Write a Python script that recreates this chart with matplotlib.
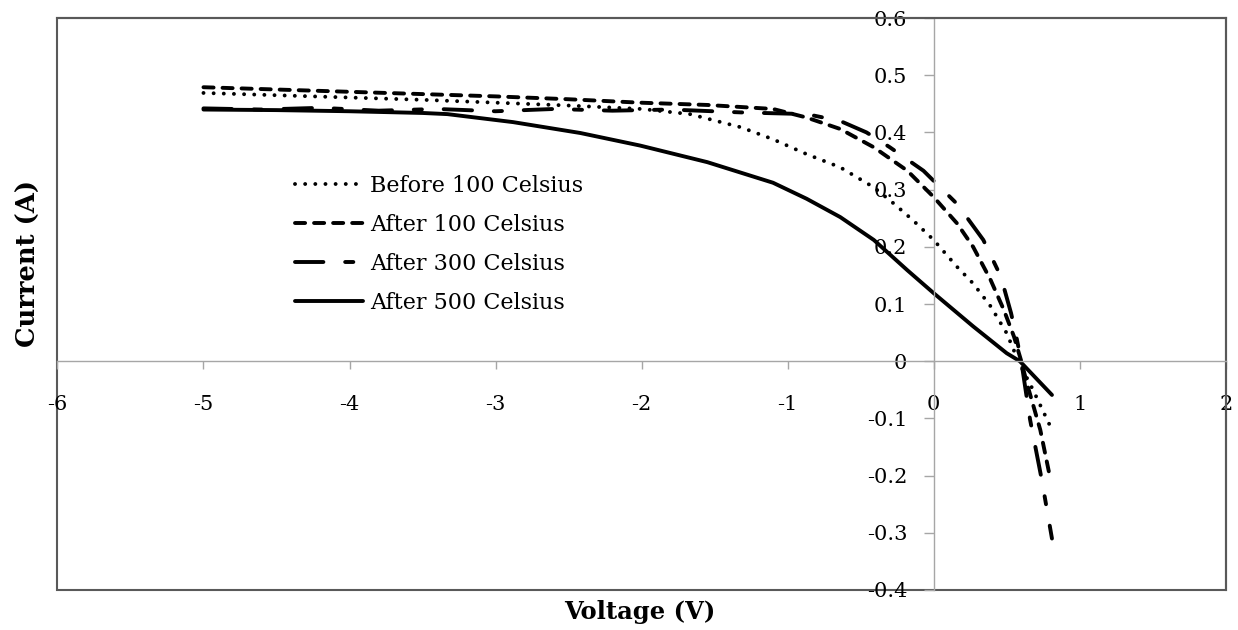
import matplotlib
matplotlib.use('Agg')
import matplotlib.pyplot as plt
from matplotlib.patches import Rectangle

# ---- data ----
v_before100 = [-5.0, -4.5, -4.0, -3.5, -3.0, -2.5, -2.0, -1.67, -1.32, -1.1, -0.87, -0.64, -0.41, -0.27, -0.14, 0.0, 0.16, 0.27, 0.39, 0.5, 0.58, 0.68, 0.81]
i_before100 = [0.469, 0.465, 0.461, 0.457, 0.452, 0.447, 0.441, 0.432, 0.409, 0.388, 0.362, 0.339, 0.304, 0.275, 0.246, 0.212, 0.165, 0.136, 0.096, 0.049, 0.0, -0.05, -0.12]

v_after100 = [-5.0, -4.5, -4.0, -3.5, -3.0, -2.5, -2.01, -1.55, -1.1, -0.87, -0.64, -0.41, -0.18, 0.0, 0.16, 0.27, 0.39, 0.48, 0.55, 0.6, 0.64, 0.73, 0.8]
i_after100 = [0.479, 0.475, 0.471, 0.467, 0.463, 0.458, 0.452, 0.448, 0.441, 0.426, 0.406, 0.374, 0.333, 0.287, 0.241, 0.200, 0.142, 0.090, 0.043, 0.0, -0.04, -0.12, -0.207]

v_after300 = [-5.0, -4.6, -4.2, -3.8, -3.4, -3.0, -2.6, -2.2, -1.8, -1.32, -0.87, -0.64, -0.46, -0.3, -0.07, 0.16, 0.34, 0.46, 0.53, 0.57, 0.6, 0.66, 0.74, 0.81]
i_after300 = [0.442, 0.440, 0.443, 0.438, 0.441, 0.437, 0.441, 0.438, 0.440, 0.435, 0.432, 0.420, 0.400, 0.374, 0.333, 0.275, 0.212, 0.148, 0.084, 0.038, 0.0, -0.102, -0.207, -0.31]

v_after500 = [-5.0, -4.5, -4.0, -3.5, -3.33, -2.88, -2.42, -2.01, -1.55, -1.1, -0.87, -0.64, -0.41, -0.18, 0.0, 0.27, 0.5, 0.59, 0.81]
i_after500 = [0.440, 0.439, 0.437, 0.434, 0.432, 0.418, 0.399, 0.377, 0.348, 0.312, 0.284, 0.252, 0.212, 0.159, 0.119, 0.061, 0.014, 0.0, -0.059]

labels = ['Before 100 Celsius', 'After 100 Celsius', 'After 300 Celsius', 'After 500 Celsius']
x_ticks = [-6, -5, -4, -3, -2, -1, 0, 1, 2]
y_ticks = [-0.4, -0.3, -0.2, -0.1, 0, 0.1, 0.2, 0.3, 0.4, 0.5, 0.6]
x_tick_labels = ['-6', '-5', '-4', '-3', '-2', '-1', '0', '1', '2']
y_tick_labels = ['-0.4', '-0.3', '-0.2', '-0.1', '0', '0.1', '0.2', '0.3', '0.4', '0.5', '0.6']

plt.rcParams['font.family'] = ['DejaVu Serif']

fig = plt.figure(figsize=(12.38, 6.30), dpi=100)
ax = fig.add_axes([0.0464, 0.0635, 0.9437, 0.9079])

lw = 2.8
ax.plot(v_before100, i_before100, color='black', lw=lw, linestyle=(0, (0.01, 2.6)),
        dash_capstyle='round', solid_joinstyle='round', label=labels[0])
ax.plot(v_after100, i_after100, color='black', lw=lw, linestyle=(0, (2.6, 2.3)),
        dash_capstyle='round', dash_joinstyle='round', label=labels[1])
ax.plot(v_after300, i_after300, color='black', lw=lw, linestyle=(0, (7.3, 5.6, 2.1, 5.6)),
        dash_capstyle='round', dash_joinstyle='round', label=labels[2])
ax.plot(v_after500, i_after500, color='black', lw=lw, linestyle='-',
        solid_capstyle='round', solid_joinstyle='round', label=labels[3])

ax.set_xlim(-6, 2)
ax.set_ylim(-0.4, 0.6)
ax.set_xticks(x_ticks)
ax.set_xticklabels(x_tick_labels)
ax.set_yticks(y_ticks)
ax.set_yticklabels(y_tick_labels)

for s in ['left', 'bottom']:
    ax.spines[s].set_position(('data', 0))
    ax.spines[s].set_color('#a6a6a6')
    ax.spines[s].set_linewidth(1.0)
for s in ['top', 'right']:
    ax.spines[s].set_color('#595959')
    ax.spines[s].set_linewidth(1.5)
ax.add_patch(Rectangle((0, 0), 1, 1, transform=ax.transAxes, fill=False,
                       ec='#595959', lw=1.5, clip_on=False, zorder=0))

ax.tick_params(axis='x', direction='out', length=6, width=1, color='#a6a6a6',
               pad=18, labelsize=15)
ax.tick_params(axis='y', direction='out', length=7, width=1, color='#a6a6a6',
               pad=12, labelsize=15)

leg = ax.legend(loc='upper left', bbox_to_anchor=(295 / 1238, 1 - 175 / 630),
                bbox_transform=fig.transFigure, frameon=False, fontsize=16,
                handlelength=3.06, handletextpad=0.3, labelspacing=0.76,
                borderpad=0, borderaxespad=0)

fig.text(28 / 1238, 1 - 263 / 630, 'Current (A)', rotation=90, ha='center', va='center',
         fontsize=18.5, fontweight='bold')
fig.text(640 / 1238, 1 - 612 / 630, 'Voltage (V)', ha='center', va='center',
         fontsize=17.5, fontweight='bold')

fig.savefig('out.png', dpi=100)
